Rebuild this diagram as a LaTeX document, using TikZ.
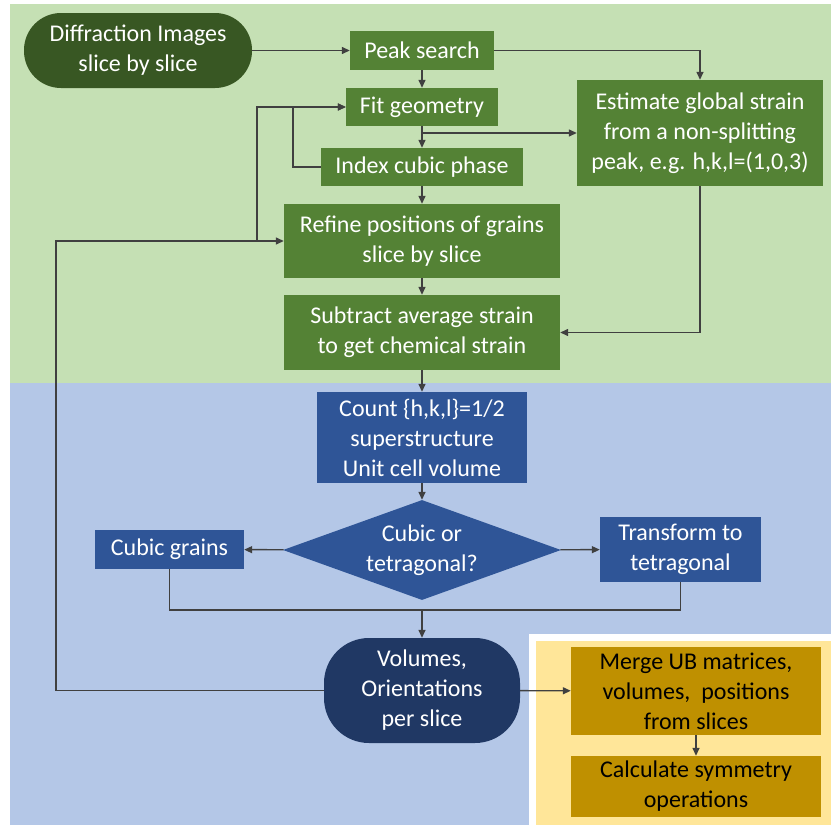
\documentclass[tikz,border=0pt]{standalone}
\usepackage{fontspec}
\setmainfont{Carlito}
\usetikzlibrary{shapes.geometric,arrows.meta}
\definecolor{greenbg}{HTML}{C5E0B4}
\definecolor{bluebg}{HTML}{B4C7E7}
\definecolor{yellowbg}{HTML}{FFE699}
\definecolor{darkgreen}{HTML}{385723}
\definecolor{boxgreen}{HTML}{548235}
\definecolor{boxblue}{HTML}{2F5597}
\definecolor{navy}{HTML}{203864}
\definecolor{gold}{HTML}{BF9000}
\definecolor{linegray}{HTML}{404040}

\begin{document}
\begin{tikzpicture}[x=1pt, y=-1pt,
  every node/.style = {font=\fontsize{24}{30}\selectfont, align=center, inner sep=0pt},
  gbox/.style = {rectangle, fill=boxgreen, text=white},
  bbox/.style = {rectangle, fill=boxblue, text=white},
  ybox/.style = {rectangle, fill=gold, text=black},
  link/.style = {draw=linegray, line width=1.4pt},
  >={Triangle[length=8pt,width=7pt]}]
  \useasboundingbox (0,0) rectangle (831,825);
  % backgrounds
  \fill[greenbg] (10,4) rectangle (831,383);
  \fill[bluebg] (10,383) rectangle (831,825);
  \fill[white] (529,634) rectangle (831,825);
  \fill[yellowbg] (536,641) rectangle (831,825);
  % nodes
  \node[fill=darkgreen, text=white, rounded corners=37pt, minimum width=228, minimum height=75] (0) at (138,50.5) {Diffraction Images\\slice by slice};
  \node[gbox, minimum width=144, minimum height=39] (1) at (422,50.5) {Peak search};
  \node[gbox, minimum width=152, minimum height=38] (2) at (422,107) {Fit geometry};
  \node[gbox, minimum width=202, minimum height=38] (3) at (422,167) {Index cubic phase};
  \node[gbox, minimum width=276, minimum height=74] (4) at (422,241) {Refine positions of grains\\slice by slice};
  \node[gbox, minimum width=276, minimum height=75] (5) at (422,332.5) {Subtract average strain\\to get chemical strain};
  \node[gbox, minimum width=246, minimum height=106] (6) at (700,133) {Estimate global strain\\from a non-splitting\\peak, e.g. h,k,l=(1,0,3)};
  \node[bbox, minimum width=210, minimum height=91] (7) at (422,437.5) {Count \{h,k,l\}=1/2\\superstructure\\Unit cell volume};
  \node[diamond, shape aspect=2.78, fill=boxblue, text=white, minimum width=278, minimum height=100] (8) at (422,550) {Cubic or\\tetragonal?};
  \node[bbox, minimum width=149, minimum height=39] (9) at (169.5,549.5) {Cubic grains};
  \node[bbox, minimum width=161, minimum height=65] (10) at (680.5,549.5) {Transform to\\tetragonal};
  \node[fill=navy, text=white, rounded corners=45pt, minimum width=196, minimum height=105] (11) at (422,690.5) {Volumes,\\Orientations\\per slice};
  \node[ybox, minimum width=250, minimum height=88] (12) at (696,691) {Merge UB matrices,\\volumes, \ positions\\from slices};
  \node[ybox, minimum width=250, minimum height=61] (13) at (696,786.5) {Calculate symmetry\\operations};
  \coordinate (14) at (422,133);
  \coordinate (15) at (257,241);
  \coordinate (16) at (56,241);
  \coordinate (17) at (422,610);
  % connectors
  \draw[link, ->] (0)--(1);
  \draw[link, ->] (1)--(2);
  \draw[link, ->] (1.east) -| (6.north);
  \draw[link, ->] (2)--(3);
  \draw[link, ->] (14)--(6.west);
  \draw[link, ->] (3.west) -- ++(-28,0) |- (2.west);
  \draw[link, ->] (15) |- (2.west);
  \draw[link, ->] (3)--(4);
  \draw[link, ->] (4)--(5);
  \draw[link, ->] (6.south) |- (5.east);
  \draw[link, ->] (5)--(7);
  \draw[link, ->] (7)--(8);
  \draw[link, ->] (8)--(9);
  \draw[link, ->] (8)--(10);
  \draw[link] (9.south) |- (17) -| (10.south);
  \draw[link, ->] (17)--(11);
  \draw[link, ->] (11.west) -| (16) -- (4.west);
  \draw[link, ->] (11)--(12);
  \draw[link, ->] (12)--(13);
\end{tikzpicture}
\end{document}
